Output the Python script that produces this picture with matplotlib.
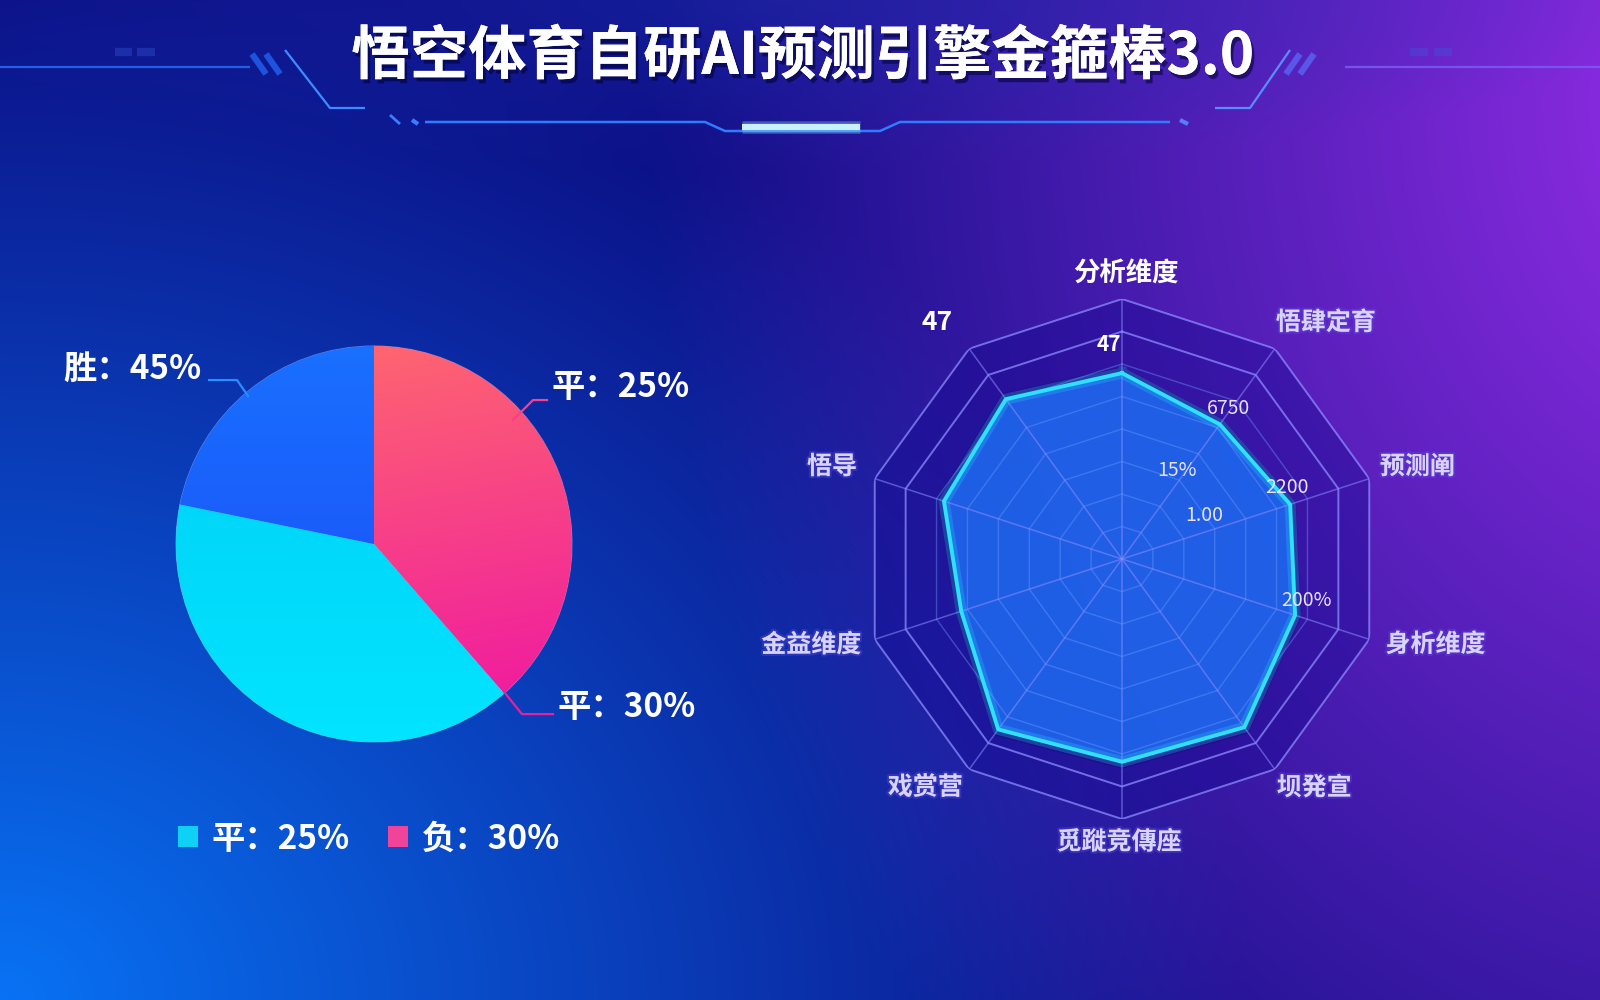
import numpy as np
import matplotlib
matplotlib.use('Agg')
import matplotlib.pyplot as plt
from matplotlib.patches import Patch
import matplotlib.patheffects as pe

plt.rcParams['font.family'] = ['Noto Sans CJK SC', 'DejaVu Sans']

# ---------------- data ----------------
title = "悟空体育自研AI预测引擎金箍棒3.0"

pie_names = ["负", "平", "胜"]
pie_shares = [38.6, 39.6, 21.8]
pie_labels = ["平：25%", "平：30%", "胜：45%"]
legend_labels = ["平：25%", "负：30%"]

# radar, clockwise from top
radar_categories = ["分析维度", "悟肆定育", "预测阐", "身析维度", "坝発宣",
                    "觅蹝竞傳座", "戏赏营", "金益维度", "悟导", "47"]
radar_values = [0.715, 0.64, 0.68, 0.70, 0.80, 0.78, 0.81, 0.65, 0.72, 0.76]
radar_ticklabels = ["47", "6750", "15%", "1.00", "2200", "200%"]
radar_rings = 8

# ---------------- figure & background ----------------
W, H = 1600, 1000
fig = plt.figure(figsize=(16, 10), dpi=100)
bg = fig.add_axes([0, 0, 1, 1])
yy, xx = np.mgrid[0:H, 0:W].astype(float)
img = np.ones((H, W, 3)) * np.array([12, 14, 132]) / 255.0


def blend(im, color, w):
    return im * (1 - w[..., None]) + (np.array(color) / 255.0) * w[..., None]


d = np.sqrt((xx / 1250.0) ** 2 + ((yy - 1000) / 1050.0) ** 2)
img = blend(img, (8, 118, 248), np.clip(1 - d, 0, 1) ** 1.05 * 0.97)
d = np.sqrt(((xx - 1750) / 1100.0) ** 2 + ((yy - 100) / 1400.0) ** 2)
img = blend(img, (160, 48, 240), np.clip(1 - d, 0, 1) ** 1.0 * 0.95)
d = np.sqrt(((xx - 780) / 900.0) ** 2 + (yy / 170.0) ** 2)
img = blend(img, (30, 45, 175), np.clip(1 - d, 0, 1) * 0.5)
bg.imshow(np.clip(img, 0, 1), extent=(0, W, H, 0), aspect='auto', zorder=0)
bg.set_xlim(0, W)
bg.set_ylim(H, 0)
bg.axis('off')

# title decorations (pixel coordinates)
deco = dict(solid_capstyle='butt', zorder=2)
bg.plot([0, 250], [67, 67], color='#2a6af5', lw=1.6, alpha=0.85, **deco)
bg.plot([1345, 1600], [67, 67], color='#7a5cf5', lw=1.6, alpha=0.85, **deco)
for x0 in (252, 266):
    bg.plot([x0, x0 + 14], [54, 74], color='#1f5ae8', lw=4.5, alpha=0.9, **deco)
for x0 in (1300, 1314):
    bg.plot([x0, x0 - 14], [54, 74], color='#5a5cf0', lw=4.5, alpha=0.9, **deco)
bg.plot([285, 330, 365], [50, 108, 108], color='#3d8cff', lw=1.6, **deco)
bg.plot([1290, 1250, 1215], [50, 108, 108], color='#5a8cff', lw=1.6, **deco)
bg.plot([390, 400], [115, 124], color='#3d7cff', lw=2, **deco)
bg.plot([412, 418], [120, 124], color='#3d7cff', lw=3, **deco)
bg.plot([425, 705, 725, 880, 900, 1170], [122, 122, 131, 131, 122, 122],
        color='#2f7cff', lw=1.8, **deco)
bg.plot([1180, 1188], [120, 124], color='#5a7cff', lw=3, **deco)
bg.plot([742, 860], [127, 127], color='#7fd8ff', lw=9, alpha=0.35, **deco)
bg.plot([742, 860], [127, 127], color='#c8f0ff', lw=4.5, **deco)
for (a, b, yv) in [(115, 132, 52), (137, 155, 52), (1410, 1428, 52), (1434, 1452, 52)]:
    bg.plot([a, b], [yv, yv], color='#3a5ae0', lw=6, alpha=0.35, **deco)

bg.text(803, 57, title, color='white', fontsize=42, fontweight='bold',
        ha='center', va='center', zorder=5,
        path_effects=[pe.withSimplePatchShadow(offset=(2, -3), shadow_rgbFace='#000033', alpha=0.55),
                      pe.Normal()])

# ---------------- pie ----------------
ax = fig.add_axes([0, 0.12, 0.47, 0.65])
ax.patch.set_alpha(0)
pie_colors = ['#f4407f', '#03d9f7', '#1a5cff']
wedges, _ = ax.pie(pie_shares, colors=pie_colors, startangle=90, counterclock=False,
                   radius=1.0, wedgeprops=dict(linewidth=0.8, edgecolor=(1, 1, 1, 0.35)))

gy, gx = np.mgrid[1:-1:200j, -1:1:200j]
grads = [
    (np.array([255, 108, 108]), np.array([238, 18, 165]), (1 - gy) / 2 * 0.85 + (gx + 1) / 2 * 0.15),
    (np.array([0, 205, 245]), np.array([2, 228, 255]), (1 - gy) / 2),
    (np.array([25, 112, 255]), np.array([28, 72, 245]), (1 - gy) / 2),
]
for wdg, (c0, c1, t) in zip(wedges, grads):
    t = np.clip(t, 0, 1)[..., None]
    rgb = (c0 * (1 - t) + c1 * t) / 255.0
    im = ax.imshow(rgb, extent=(-1, 1, -1, 1), zorder=wdg.get_zorder() + 0.1, aspect='auto')
    im.set_clip_path(wdg)

ax.set_xlim(-374 / 198, (752 - 374) / 198)
ax.set_ylim(-(880 - 544) / 198, (544 - 230) / 198)
ax.set_aspect('auto')
ax.axis('off')

lab_fs = 24
txt_kw = dict(color='white', fontsize=lab_fs, fontweight='bold', va='center', ha='left', zorder=6)
# 胜 (blue slice)
ax.plot([-0.833, -0.692, -0.636], [0.828, 0.828, 0.747], color='#2a8cff', lw=1.6, zorder=6)
ax.text(-1.571, 0.884, pie_labels[2], **txt_kw)
# pink slice upper
ax.plot([0.702, 0.803, 0.874], [0.626, 0.727, 0.727], color='#ff3d8a', lw=1.6, zorder=6)
ax.text(0.894, 0.788, pie_labels[0], **txt_kw)
# pink/cyan boundary
ax.plot([0.657, 0.747, 0.904], [-0.747, -0.859, -0.859], color='#e8209a', lw=1.6, zorder=6)
ax.text(0.929, -0.828, pie_labels[1], **txt_kw)

handles = [Patch(facecolor='#0fd0f5', edgecolor='none'), Patch(facecolor='#f0449a', edgecolor='none')]
leg = fig.legend(handles, legend_labels, loc='center left', bbox_to_anchor=(0.111, 0.161),
                 ncol=2, frameon=False, borderpad=0, borderaxespad=0,
                 handlelength=0.6, handleheight=0.6, handletextpad=0.42, columnspacing=1.15,
                 prop=dict(size=lab_fs, weight='bold'))
for t in leg.get_texts():
    t.set_color('white')

# ---------------- radar ----------------
rx = fig.add_axes([862 / 1600, 181 / 1000, 520 / 1600, 520 / 1000], projection='polar')
rx.set_theta_offset(np.pi / 2)
rx.set_theta_direction(-1)
rx.set_ylim(0, 1)
rx.axis('off')

n = len(radar_categories)
ang = np.linspace(0, 2 * np.pi, n, endpoint=False)
ang_c = np.append(ang, ang[0])
vals_c = np.append(radar_values, radar_values[0])

# dark interior of outer decagon
rx.fill(ang_c, np.ones(n + 1), color='#12088f', alpha=0.38, zorder=1, lw=0)
# data area
rx.fill(ang_c, vals_c * 1.035, color='#150a70', alpha=0.45, zorder=2, lw=0)
rx.fill(ang_c, vals_c, color='#1f66ee', alpha=0.92, zorder=3, lw=0)

# grid rings and spokes
for k in range(1, radar_rings + 1):
    r = k / radar_rings
    outer = k >= radar_rings - 1
    rx.plot(ang_c, np.full(n + 1, r), color='#8c8cff' if outer else '#6f9bff',
            alpha=0.75 if outer else 0.4, lw=1.4 if outer else 1.0, zorder=4)
for a in ang:
    rx.plot([a, a], [0, 1], color='#8c8cff', alpha=0.55, lw=1.1, zorder=4)

# data outline with glow
rx.plot(ang_c, vals_c, color='#28d8ff', lw=8, alpha=0.25, zorder=5)
rx.plot(ang_c, vals_c, color='#2fe0ff', lw=2.8, zorder=6)

# category labels (polar positions: angle deg clockwise from top, radius)
cat_pos = [(0.8, 1.096), (40.8, 1.20), (72.7, 1.19), (105.3, 1.25), (140.0, 1.15),
           (180.6, 1.09), (220.7, 1.16), (254.5, 1.24), (287.6, 1.17), (321.9, 1.154)]
glow = [pe.withStroke(linewidth=3, foreground='#5a50e0', alpha=0.35)]
for i, (lab, (th, rr)) in enumerate(zip(radar_categories, cat_pos)):
    strong = i in (0, 9)
    rx.text(np.deg2rad(th), rr, lab, ha='center', va='center',
            fontsize=19 if strong else 18, fontweight='bold',
            color='white' if strong else '#d9d4ff', zorder=8,
            path_effects=None if strong else glow)

# value tick labels
tick_pos = [(-3.5, 0.825), (35.3, 0.71), (31.7, 0.40), (62.0, 0.36), (66.6, 0.69), (102.6, 0.725)]
for j, (lab, (th, rr)) in enumerate(zip(radar_ticklabels, tick_pos)):
    rx.text(np.deg2rad(th), rr, lab, ha='center', va='center',
            fontsize=15 if j == 0 else 14, fontweight='bold' if j == 0 else 'normal',
            color='white' if j == 0 else '#e4e2ff', zorder=8)

fig.savefig('out.png', dpi=100)
